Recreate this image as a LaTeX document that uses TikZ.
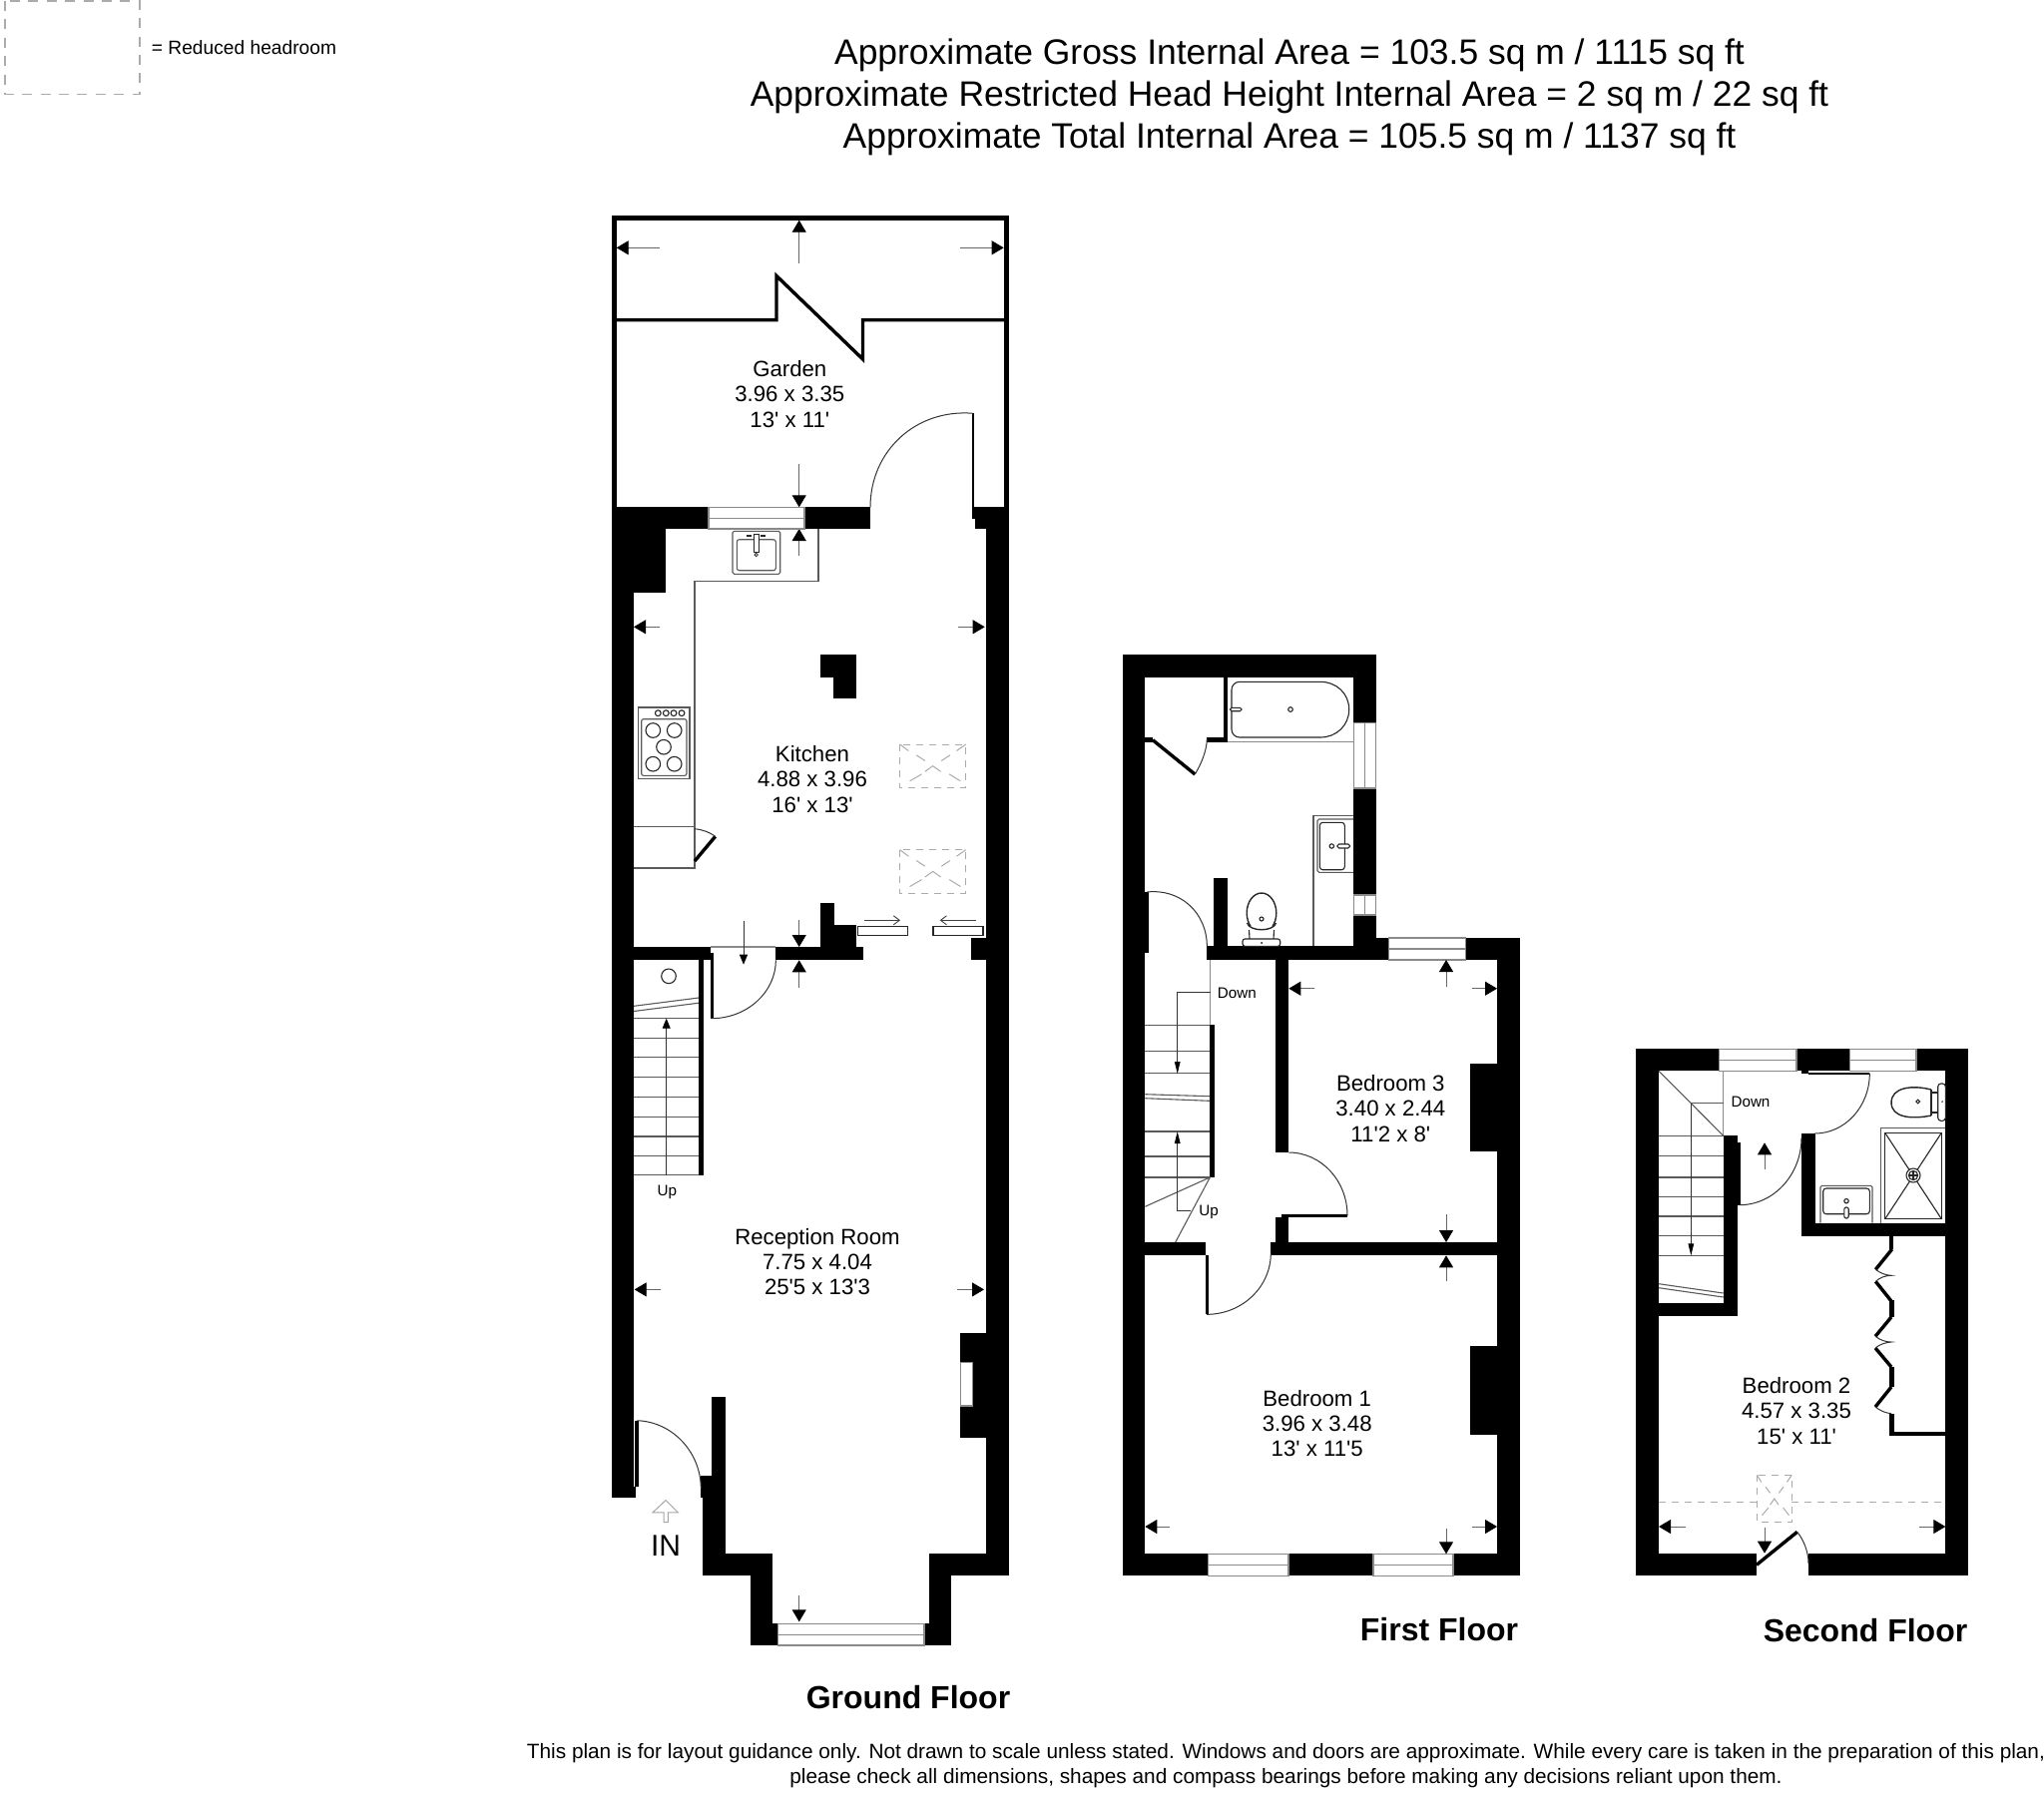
\documentclass[tikz,border=0pt]{standalone}
\usepackage{fontspec}
\setmainfont{Liberation Sans}
\usetikzlibrary{arrows.meta}
\definecolor{edgegray}{HTML}{8A8A8A}
\definecolor{lightline}{HTML}{5A5A5A}
\definecolor{dashgray}{HTML}{ABABAB}
\newcommand{\ftq}{\textquotesingle}
\tikzset{
  wallc/.style={fill=black},
  winline/.style={draw=edgegray,line width=0.6pt},
  thinl/.style={draw=black!80,line width=0.5pt},
  fixt/.style={draw=lightline,line width=0.55pt},
  fixk/.style={draw=black!85,line width=0.55pt},
  leaf/.style={draw=black,line width=1.7pt},
  dimline/.style={draw=black!60,line width=0.45pt,-{Triangle[length=6pt,width=7pt,color=black,fill=black]}},
  stairarr/.style={draw=black!80,line width=0.45pt,-{Triangle[length=6pt,width=2.8pt,color=black,fill=black]}},
  slidearr/.style={draw=black!75,line width=0.45pt,-{Straight Barb[length=3pt,width=4.5pt]}},
  skyd/.style={draw=dashgray,line width=0.5pt,dash pattern=on 3.5pt off 3pt},
  legd/.style={draw=dashgray,line width=0.55pt,dash pattern=on 5pt off 4.2pt},
  roomlabel/.style={inner sep=0pt,align=center,font=\fontsize{11.1}{12.6}\selectfont},
  smalllabel/.style={inner sep=0pt,font=\fontsize{7.6}{9}\selectfont},
  floorlabel/.style={inner sep=0pt,font=\fontsize{16}{18}\selectfont\bfseries},
}
\newcommand{\wallr}[4]{\fill[wallc] (#1,#2) rectangle (#3,#4);}
\newcommand{\hwin}[4]{\fill[white] (#1,#2) rectangle (#3,#4);\draw[winline] (#1,#2) rectangle (#3,#4);\draw[winline] (#1,{(#2+#4)/2}) -- (#3,{(#2+#4)/2});}
\newcommand{\vwin}[4]{\fill[white] (#1,#2) rectangle (#3,#4);\draw[winline] (#1,#2) rectangle (#3,#4);\draw[winline] ({(#1+#3)/2},#2) -- ({(#1+#3)/2},#4);}
\newcommand{\qarc}[6]{%
  \pgfmathsetmacro\qax{#3+0.5523*(#5-#1)}\pgfmathsetmacro\qay{#4+0.5523*(#6-#2)}%
  \pgfmathsetmacro\qbx{#5+0.5523*(#3-#1)}\pgfmathsetmacro\qby{#6+0.5523*(#4-#2)}%
  \draw[thinl] (#3,#4) .. controls (\qax,\qay) and (\qbx,\qby) .. (#5,#6);}
\newcommand{\dimarr}[4]{\draw[dimline] (#1,#2) -- (#3,#4);}
\newcommand{\skyl}[4]{\begin{scope}[shift={(#1,#2)},xscale=#3,yscale=#4]
  \draw[skyd] (0,0) rectangle (1,1);
  \draw[skyd,dash pattern=on 20pt off 0pt] (0,0) -- (.13,.15) (.25,.25) -- (.38,.38) (1,0) -- (.86,.15) (.76,.25) -- (.63,.38)
     (.38,.63) -- (.5,.5) -- (.62,.63) (.15,.85) -- (.33,.69) (.75,.69) -- (.92,.85);
  \end{scope}}
\begin{document}
\begin{tikzpicture}[x=0.5pt,y=-0.5pt]
\useasboundingbox (0,0) rectangle (2048,1799);
\fill[white] (0,0) rectangle (2048,1799);

% ---- legend and title
\draw[legd] (5,1) rectangle (140,94.3);
\node[inner sep=0pt,anchor=west,font=\fontsize{9.6}{12}\selectfont] (legendtext) at (151.5,47.9) {= Reduced headroom};
\node[inner sep=0pt,align=center,font=\fontsize{17.72}{20.9}\selectfont] (titletext) at (1292,97.5) {Approximate Gross Internal Area = 103.5 sq m / 1115 sq ft\\Approximate Restricted Head Height Internal Area = 2 sq m / 22 sq ft\\Approximate Total Internal Area = 105.5 sq m / 1137 sq ft};

% ---- GROUND FLOOR: garden
\draw[draw=black,line width=2.5pt] (615.2,508) -- (615.2,218.2) -- (1008.2,218.2) -- (1008.2,508);
\draw[draw=black,line width=1.7pt,miter limit=10] (617,320.7) -- (778,320.7) -- (778,276.5) -- (864.5,360) -- (864.5,320.7) -- (1006,320.7);
\dimarr{800.7}{264}{800.7}{220.7}
\dimarr{661}{248.3}{617.7}{248.3}
\dimarr{961.7}{248.3}{1005.7}{248.3}
\dimarr{800.7}{465}{800.7}{508.3}
\dimarr{800.7}{556.7}{800.7}{530}
\node[roomlabel] (garden) at (791.3,395) {Garden\\3.96 x 3.35\\13\ftq{} x 11\ftq};

% walls
\wallr{612.7}{508.3}{710}{530}
\wallr{806}{508.3}{872}{530}
\wallr{975}{508.3}{1010.7}{519.5}
\wallr{976.5}{519}{1010.7}{530}
\wallr{612.7}{508.3}{666.7}{594}
\wallr{612.7}{508.3}{635}{1500.8}
\wallr{612.7}{1489.7}{637.3}{1500.8}
\wallr{988.3}{508.3}{1010.7}{1579}
\wallr{635}{949}{711.7}{962.3}
\wallr{700}{962}{705}{1177.7}
\wallr{777.3}{949}{865.3}{962.3}
\wallr{822}{905}{836}{962.3}
\wallr{836}{926.7}{857.7}{962.3}
\wallr{972.7}{940}{988.3}{962.3}
\wallr{822}{656}{857.7}{678.7}
\wallr{835.3}{656}{857.7}{700}
\wallr{961.7}{1335.9}{988.3}{1441.4}
\fill[white] (962.7,1365.1) rectangle (974.7,1409);
\draw[winline] (962.7,1365.1) rectangle (974.7,1409);
\wallr{713.3}{1400}{726.7}{1579}
\wallr{702.3}{1479}{726.7}{1500.8}
\wallr{704.3}{1479}{726.7}{1579}
\wallr{704.3}{1556.9}{774.3}{1579}
\wallr{752.3}{1556.9}{774.3}{1649}
\wallr{774}{1627.3}{779.3}{1649}
\wallr{926}{1627.3}{953.3}{1649}
\wallr{930.7}{1556.9}{953.3}{1649}
\wallr{930.7}{1556.9}{1010.7}{1579}
\hwin{710}{508.3}{806}{530}
\hwin{779.3}{1627.3}{926}{1649}

% ground floor doors
\wallr{973.8}{414.3}{976}{520}
\qarc{975}{517}{975}{414.3}{872}{508.3}
\wallr{712}{955}{714.5}{1020.7}
\qarc{712.7}{962.3}{712.7}{1020.7}{777.3}{962.3}
\draw[winline] (711.7,949) -- (777.3,949);
\wallr{636}{1423.7}{639.8}{1490}
\qarc{638.3}{1490}{638.3}{1423.7}{702.3}{1492}

% kitchen fittings
\draw[fixt] (820,530) -- (820,582.7) -- (696,582.7) -- (696,870) -- (635,870);
\draw[fixt] (635,828.3) -- (696,828.3);
\draw[leaf] (696,863) -- (716.7,838.3);
\draw[thinl] (696,830.7) .. controls (704,831.5) and (711,834) .. (716.7,838.3);
\draw[fixt,rounded corners=0.8pt] (734,532.3) rectangle (781.7,575.3);
\draw[fixt,rounded corners=1.2pt] (738.3,540.7) rectangle (777.3,571.7);
\draw[fixk,fill=white,line width=0.4pt] (755.5,535) rectangle (760,553);
\draw[fixk,line width=0.4pt] (757.7,556) circle[radius=1.7];
\draw[fixk,line width=0.8pt] (748,537) -- (753,537) (762,537) -- (767,537);
% cooker
\draw[fixt] (639.3,709) rectangle (691,780.3);
\draw[fixt,rounded corners=1pt] (642.7,720.7) rectangle (688,777.3);
\foreach \kx in {659.3,667.3,675,683} {\draw[fixk] (\kx,714.7) circle[radius=2.9];}
\foreach \bx/\by in {654.3/732,675.7/732,665/748.7,654.3/765.7,675.7/765.7} {\draw[fixk] (\bx,\by) circle[radius=7.3];}
\skyl{901.7}{746}{66}{43.3}
\skyl{901.7}{851.7}{66}{43.3}
% sliding doors
\draw[fixk,fill=white] (859.3,928.7) rectangle (909.3,937.3);
\draw[fixk,fill=white] (935,928.7) rectangle (985,937.3);
\draw[slidearr] (866,922.3) -- (902,922.3);
\draw[slidearr] (978,922.3) -- (941.7,922.3);
\dimarr{800.7}{922.3}{800.7}{949}
\dimarr{800.7}{990}{800.7}{962.3}
\draw[stairarr,-{Triangle[length=5pt,width=4pt,color=black,fill=black]}] (745,922.7) -- (745,966.7);
\dimarr{661}{628.3}{635}{628.3}
\dimarr{960}{628.3}{986.7}{628.3}
\node[roomlabel] (kitchen) at (814,781) {Kitchen\\4.88 x 3.96\\16\ftq{} x 13\ftq};

% ground floor stairs
\draw[fixk] (670,978.3) circle[radius=7.3];
\draw[fixt] (635,1008.3) -- (700,1000) (635,1013.5) -- (700,1005.2);
\foreach \ty in {1020.7,1040.7,1059.9,1079.7,1099.4,1119.2,1139,1158.7,1177.7} {\draw[fixt] (635,\ty) -- (700,\ty);}
\draw[stairarr,-{Triangle[length=5pt,width=4pt,color=black,fill=black]}] (667.7,1177.7) -- (667.7,1020.7);
\node[smalllabel] (gfup) at (668.3,1194.5) {Up};

% reception
\dimarr{662.3}{1292.4}{635.7}{1292.4}
\dimarr{959.3}{1292.4}{986}{1292.4}
\dimarr{800.7}{1598.8}{800.7}{1625.3}
\node[roomlabel] (reception) at (819,1264.5) {Reception Room\\7.75 x 4.04\\25\ftq5 x 13\ftq3};
\draw[draw=black!35,line width=0.5pt,fill=white] (665,1525.7) -- (665,1515.8) -- (654,1515.8) -- (667,1503.5) -- (679.3,1515.8) -- (669.3,1515.8) -- (669.3,1525.7) -- cycle;
\node[inner sep=0pt,font=\fontsize{15}{17}\selectfont] (intext) at (667,1549) {IN};
\node[floorlabel] (groundfloor) at (910,1701) {Ground Floor};

% ---- FIRST FLOOR
\wallr{1125}{656}{1147.3}{1579.3}
\wallr{1125}{656}{1378.7}{678.7}
\wallr{1356}{656}{1378.7}{724.3}
\wallr{1356}{790}{1378.7}{897}
\wallr{1356}{917}{1378.7}{962}
\wallr{1209.3}{948.3}{1391.7}{962}
\wallr{1356}{940}{1391.7}{962}
\wallr{1468.7}{940}{1522.7}{962}
\wallr{1500}{940}{1522.7}{1579.3}
\wallr{1277.7}{962}{1291.3}{1155}
\wallr{1277.7}{1220}{1291.3}{1250}
\wallr{1273.3}{1245}{1522.7}{1258.3}
\wallr{1147}{1245}{1208.3}{1258.3}
\wallr{1125}{1557.3}{1210.7}{1579.3}
\wallr{1291}{1557.3}{1376}{1579.3}
\wallr{1456}{1557.3}{1522.7}{1579.3}
\wallr{1473.3}{1065.7}{1500}{1154.3}
\wallr{1473.3}{1349}{1500}{1437.7}
\wallr{1225.7}{678}{1230.3}{744}
\wallr{1209.3}{739.3}{1230.3}{744}
\wallr{1147}{739.3}{1155}{744}
\wallr{1216.3}{880}{1230.3}{949}
\wallr{1212.3}{1027.3}{1217}{1180}
\vwin{1356.7}{724.3}{1378.3}{790}
\vwin{1356.7}{897}{1378.3}{917}
\hwin{1391.7}{940}{1468.7}{962}
\hwin{1210.7}{1557.3}{1291}{1579.3}
\hwin{1376}{1557.3}{1456}{1579.3}
% doors
\draw[leaf] (1155,741.7) -- (1197.3,776);
\draw[thinl] (1197.3,776) .. controls (1204,765) and (1209,752) .. (1209.3,741);
\wallr{1147}{894}{1150.5}{955}
\qarc{1149.3}{955}{1149.3}{894}{1209.3}{948.3}
\wallr{1284.3}{1217.3}{1350}{1219.8}
\qarc{1291.3}{1218.3}{1291.3}{1155}{1350}{1218.3}
\wallr{1208}{1258}{1210.5}{1317.3}
\qarc{1209}{1256}{1209}{1317.3}{1273.3}{1256}
% bathroom fittings
\draw[winline] (1230,743.7) -- (1356,743.7);
\draw[fixk] (1242,683.3) -- (1323,683.3) .. controls (1339,683.3) and (1351.7,695) .. (1351.7,711) .. controls (1351.7,727) and (1339,739) .. (1323,739) -- (1242,739) .. controls (1237.5,739) and (1234,735.5) .. (1234,731) -- (1234,691.3) .. controls (1234,687) and (1237.5,683.3) .. (1242,683.3) -- cycle;
\draw[fixk] (1293,711) circle[radius=2.3];
\draw[fixk,fill=white,rounded corners=0.8pt] (1232.5,709.3) rectangle (1244,712.7);
\draw[fixt] (1356,817.7) -- (1316,817.7) -- (1316,948.3);
\draw[fixt,rounded corners=0.8pt] (1356,821) -- (1320,821) -- (1320,874.3) -- (1356,874.3);
\draw[fixk,rounded corners=1.5pt] (1322.3,824.3) rectangle (1347.3,871.7);
\draw[fixk] (1334.3,848) circle[radius=2.2];
\draw[fixk,fill=white,rounded corners=0.8pt] (1340,846) rectangle (1352.5,850);
% toilet
\draw[fixk,line width=0.7pt] (1264,915) ellipse[x radius=14.8,y radius=20];
\draw[fixk,fill=white,draw=none] (1245,928) rectangle (1283,948);
\draw[fixk,line width=0.7pt] (1249.5,925) .. controls (1252,934) and (1276,934) .. (1278.5,925);
\draw[fixk] (1251.5,932) -- (1252,941) (1276.5,932) -- (1276,941);
\draw[fixk,fill=white,rounded corners=1.2pt] (1245,941) rectangle (1282.7,948.3);
\draw[fixk] (1264,921) circle[radius=2];
\fill (1264,945) circle[radius=1];
% stairs
\draw[winline] (1212.7,962) -- (1212.7,1027.3);
\foreach \ty in {1027.3,1053.3,1075.3,1134,1159,1180} {\draw[fixt] (1147.3,\ty) -- (1212.3,\ty);}
\draw[fixt] (1147.3,1096.7) -- (1212.3,1098.7) (1147.3,1100.7) -- (1212.3,1103.3);
\draw[fixt] (1147.3,1209.3) -- (1212.3,1180) -- (1177.7,1245);
\draw[stairarr] (1212.7,994.3) -- (1179.7,994.3) -- (1179.7,1076);
\draw[stairarr] (1193.3,1213.3) -- (1179.7,1213.3) -- (1179.7,1134);
\node[smalllabel] (ffdown) at (1239.3,995.7) {Down};
\node[smalllabel] (ffup) at (1211,1215.3) {Up};
% dims
\dimarr{1449}{989}{1449}{962}
\dimarr{1317.3}{990.7}{1291.3}{990.7}
\dimarr{1475}{990.7}{1500}{990.7}
\dimarr{1449}{1217.3}{1449}{1245}
\dimarr{1449}{1284.3}{1449}{1258.3}
\dimarr{1172.3}{1530}{1147.3}{1530}
\dimarr{1475}{1530}{1500}{1530}
\dimarr{1449}{1531.7}{1449}{1557.3}
\node[roomlabel] (bedthree) at (1393.3,1111) {Bedroom 3\\3.40 x 2.44\\11\ftq2 x 8\ftq};
\node[roomlabel] (bedone) at (1319.7,1426.7) {Bedroom 1\\3.96 x 3.48\\13\ftq{} x 11\ftq5};
\node[floorlabel] (firstfloor) at (1442,1633) {First Floor};

% ---- SECOND FLOOR
\wallr{1639.3}{1051.3}{1662}{1579.3}
\wallr{1639.3}{1051.3}{1722.7}{1073.3}
\wallr{1800}{1051.3}{1853.3}{1073.3}
\wallr{1920}{1051.3}{1971.7}{1073.3}
\wallr{1949.3}{1051.3}{1971.7}{1579.3}
\wallr{1805}{1136}{1819}{1239.3}
\wallr{1805}{1225.7}{1949.5}{1239.3}
\wallr{1726.7}{1138.3}{1740.7}{1319.3}
\wallr{1662}{1306}{1740.7}{1319.3}
\wallr{1805}{1073}{1812}{1076}
\wallr{1639.3}{1556.7}{1760}{1579.3}
\wallr{1812}{1556.7}{1971.7}{1579.3}
\hwin{1722.7}{1051.3}{1800}{1073.3}
\hwin{1853.3}{1051.3}{1920}{1073.3}
% doors
\wallr{1811.7}{1074.5}{1873.3}{1077}
\qarc{1818.3}{1075.7}{1873.3}{1075.7}{1818.3}{1136}
\wallr{1740.7}{1145}{1743.8}{1207.7}
\qarc{1742.7}{1140}{1742.7}{1207.7}{1805}{1140}
\draw[leaf] (1760,1568.3) -- (1800.7,1535.3);
\draw[thinl] (1800.7,1535.3) .. controls (1807,1543) and (1812,1555) .. (1812,1567);
\dimarr{1768}{1172}{1768}{1145.3}
\dimarr{1768}{1530.7}{1768}{1556.7}
% stairs
\draw[winline] (1726.7,1073.3) -- (1726.7,1138.3);
\draw[fixt] (1662,1073.3) -- (1726.7,1138.3);
\draw[fixt] (1694.3,1105.7) -- (1726.7,1105.7);
\foreach \ty in {1138.3,1158.3,1180,1199.3,1219,1238.7,1258.3} {\draw[fixt] (1662,\ty) -- (1726.7,\ty);}
\draw[fixt] (1662,1286.7) -- (1726.7,1296) (1662,1290.7) -- (1726.7,1300);
\draw[stairarr] (1694.3,1105.7) -- (1694.3,1258.3);
\node[smalllabel] (sfdown) at (1754,1104) {Down};
% toilet
\draw[fixk,line width=0.7pt] (1935,1092) .. controls (1915,1087) and (1895,1090) .. (1895,1105) .. controls (1895,1120) and (1915,1122) .. (1935,1118);
\draw[fixk] (1935,1092) -- (1935,1118) (1935,1095) -- (1942,1095) (1935,1115) -- (1942,1115);
\draw[fixk,fill=white,rounded corners=1.5pt] (1941.7,1086) rectangle (1949.3,1123.3);
\draw[fixk] (1921.7,1104) circle[radius=1.9];
\fill (1946,1104) circle[radius=0.8];
% shower
\draw[fixt] (1949.3,1130.7) -- (1884.3,1130.7) -- (1884.3,1225.7);
\draw[fixk,line width=0.65pt] (1888.7,1135.3) rectangle (1945.3,1221.7);
\draw[fixk] (1888.7,1135.3) -- (1945.3,1221.7) (1945.3,1135.3) -- (1888.7,1221.7);
\draw[fixk,fill=white] (1917,1178) circle[radius=7];
\draw[fixk] (1917,1178) circle[radius=4.6];
\draw[fixk] (1912.4,1178) -- (1921.6,1178) (1917,1173.4) -- (1917,1182.6);
% basin
\draw[fixt,rounded corners=0.8pt] (1824,1225.7) -- (1824,1188.3) -- (1876,1188.3) -- (1876,1225.7);
\draw[fixk,rounded corners=1.5pt] (1826.7,1191) rectangle (1873.3,1216.7);
\draw[fixk] (1850,1203.7) circle[radius=2.2];
\draw[fixk,fill=white,rounded corners=1pt] (1847.8,1210) rectangle (1852.2,1221);
% wardrobe
\wallr{1892.7}{1239}{1897.3}{1252}
\wallr{1893.3}{1303}{1897.7}{1320}
\wallr{1893.3}{1370}{1897.7}{1390}
\wallr{1893.3}{1416.7}{1897.7}{1439.3}
\wallr{1893.3}{1435}{1950}{1439.3}
\draw[leaf] (1895.7,1252) -- (1879.3,1272.3);
\draw[leaf] (1879.3,1284.3) -- (1895,1304);
\draw[leaf] (1895,1320) -- (1879,1339.3);
\draw[leaf] (1879,1351) -- (1895,1370);
\draw[leaf] (1895,1390) -- (1879,1410);
\draw[thinl] (1879.3,1272.3) .. controls (1884,1276) and (1889,1278) .. (1895,1278.3) .. controls (1889,1278.5) and (1884,1280) .. (1879.3,1284.3);
\draw[thinl] (1879,1339.3) .. controls (1884,1343) and (1889,1345) .. (1895,1345) .. controls (1889,1345.5) and (1884,1347) .. (1879,1351);
\draw[thinl] (1879,1410) .. controls (1884,1414) and (1889,1416) .. (1895,1416.7);
% reduced headroom
\draw[skyd] (1662,1505) -- (1760.3,1505) (1795.3,1505) -- (1949.3,1505);
\skyl{1760.3}{1478.3}{35}{47.4}
\dimarr{1689}{1530}{1662}{1530}
\dimarr{1923.3}{1530}{1949.3}{1530}
\node[roomlabel] (bedtwo) at (1800,1414) {Bedroom 2\\4.57 x 3.35\\15\ftq{} x 11\ftq};
\node[floorlabel] (secondfloor) at (1869,1634.3) {Second Floor};

% ---- footer
\node[inner sep=0pt,align=center,font=\fontsize{10.4}{12.4}\selectfont] (footer) at (1288.5,1769.5) {This plan is for layout guidance only. Not drawn to scale unless stated. Windows and doors are approximate. While every care is taken in the preparation of this plan,\\please check all dimensions, shapes and compass bearings before making any decisions reliant upon them.};
\end{tikzpicture}
\end{document}
